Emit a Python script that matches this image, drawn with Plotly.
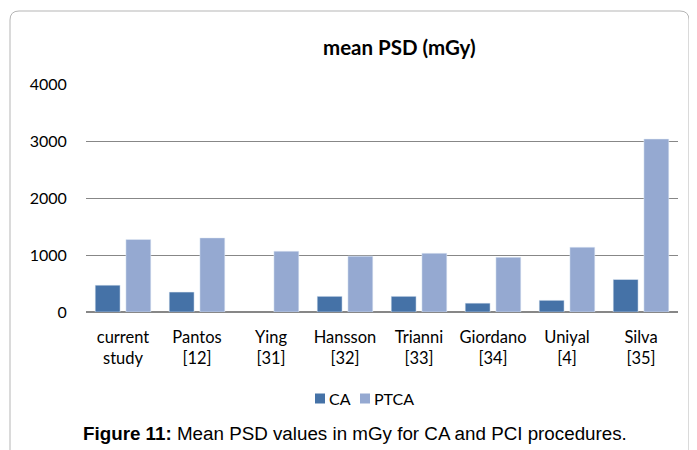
import plotly.graph_objects as go

categories = ["current<br>study", "Pantos<br>[12]", "Ying<br>[31]", "Hansson<br>[32]",
              "Trianni<br>[33]", "Giordano<br>[34]", "Uniyal<br>[4]", "Silva<br>[35]"]
ca_values = [470, 350, None, 275, 275, 155, 205, 570]
ptca_values = [1272, 1300, 1067, 980, 1030, 960, 1137, 3035]
y_ticks = [0, 1000, 2000, 3000, 4000]
series_names = ["CA", "PTCA"]
series_colors = ["#4572A7", "#95A9D1"]

# page body has an 8px margin: draw in page pixels, then offset
OFF = 8
W, H = 697 - OFF, 450 - OFF
L, R, T, B = 86 - OFF, 678 - OFF, 84 - OFF, 312 - OFF


def px(x):
    return (x - OFF - L) / (R - L)


def py(y):
    return (B - (y - OFF)) / (B - T)


fig = go.Figure()
for name, vals, col in zip(series_names, [ca_values, ptca_values], series_colors):
    fig.add_trace(go.Bar(name=name, x=categories, y=vals, marker_color=col))

font_family = "Lato, Open Sans, sans-serif"

fig.update_layout(
    width=W, height=H,
    margin=dict(l=L, r=W - R, t=T, b=H - B, pad=0),
    paper_bgcolor="white", plot_bgcolor="white",
    barmode="group", bargap=0.17, bargroupgap=0.19,
    font=dict(family=font_family, size=16, color="#000000"),
    showlegend=False,
    xaxis=dict(showgrid=False, showline=False, ticks="outside", ticklen=10,
               tickcolor="rgba(0,0,0,0)", tickfont=dict(size=16.5), fixedrange=True),
    yaxis=dict(range=[0, 4000], tickvals=y_ticks, showgrid=True, gridcolor="#878787",
               gridwidth=1, zeroline=True, zerolinecolor="#878787", zerolinewidth=1.5,
               ticks="outside", ticklen=15, tickcolor="rgba(0,0,0,0)",
               tickfont=dict(size=16), fixedrange=True),
)

fig.add_annotation(text="<b>mean PSD (mGy)</b>", xref="paper", yref="paper",
                   x=px(399), y=py(47), xanchor="center", yanchor="middle",
                   showarrow=False, font=dict(size=20.5, family=font_family))

# manual legend
legend_items = [(315, 327), (360, 372)]
for (sx, tx), name, col in zip(legend_items, series_names, series_colors):
    fig.add_shape(type="rect", xref="paper", yref="paper",
                  x0=px(sx), x1=px(sx + 10), y0=py(403.5), y1=py(393.5),
                  fillcolor=col, line=dict(width=0))
    fig.add_annotation(text=name, xref="paper", yref="paper", x=px(tx), y=py(398.5),
                       xanchor="left", yanchor="middle", showarrow=False,
                       font=dict(size=16, family=font_family))

fig.add_annotation(text="<b>Figure 11:</b> Mean PSD values in mGy for CA and PCI procedures.",
                   xref="paper", yref="paper", x=px(355), y=py(433),
                   xanchor="center", yanchor="middle", showarrow=False,
                   font=dict(size=18.8, family="Liberation Sans, Arial, sans-serif"))

# rounded border around chart
x0, x1, y0, y1, r = 10, 689, 11, 470, 9
path = (f"M {px(x0)},{py(y1)} L {px(x0)},{py(y0 + r)} "
        f"Q {px(x0)},{py(y0)} {px(x0 + r)},{py(y0)} "
        f"L {px(x1 - r)},{py(y0)} Q {px(x1)},{py(y0)} {px(x1)},{py(y0 + r)} "
        f"L {px(x1)},{py(y1)}")
fig.add_shape(type="path", path=path, xref="paper", yref="paper",
              line=dict(color="#b5b5b5", width=1), layer="below")

fig.write_html("out.html")
